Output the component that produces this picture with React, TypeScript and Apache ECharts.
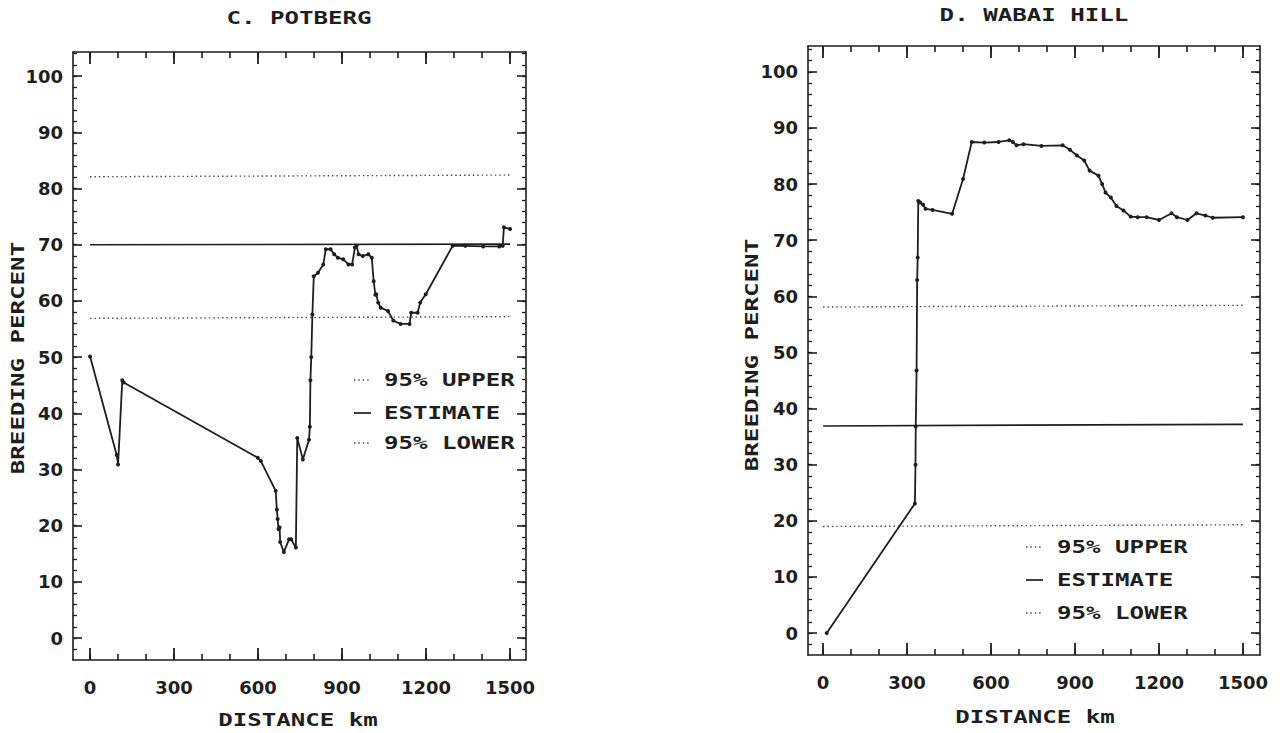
import React, { useEffect, useRef } from "react";
import * as echarts from "echarts";

// ---- data ----
const potbergKm = [0, 95, 100, 115, 120, 599, 610, 663, 667, 670, 673, 677, 679, 692, 711, 718, 735, 740, 760, 782, 785, 787, 790, 794, 799, 814, 833, 842, 859, 872, 885, 904, 923, 936, 946, 952, 959, 974, 994, 1006, 1013, 1019, 1022, 1029, 1038, 1064, 1083, 1109, 1141, 1147, 1170, 1179, 1199, 1295, 1340, 1404, 1462, 1474, 1478, 1500];
const potbergPct = [50.1, 32.6, 30.9, 45.9, 45.5, 32.1, 31.5, 26.2, 22.9, 21.2, 19.4, 19.7, 17.1, 15.3, 17.6, 17.6, 16.1, 35.6, 31.8, 35.3, 37.6, 45.9, 50.0, 57.6, 64.4, 65.0, 66.5, 69.2, 69.2, 68.3, 67.7, 67.4, 66.5, 66.5, 69.5, 69.8, 68.3, 68.0, 68.3, 67.7, 63.5, 61.1, 61.2, 59.7, 58.8, 58.2, 56.5, 55.9, 55.9, 57.9, 57.9, 59.7, 61.2, 69.8, 69.8, 69.7, 69.7, 69.8, 73.1, 72.8];
const potbergUpper = [82.1, 82.4];
const potbergEstimate = [70.0, 70.1];
const potbergLower = [56.9, 57.2];

const wabaiKm = [13, 328, 330, 331, 334, 336, 338, 340, 347, 357, 366, 391, 461, 500, 531, 576, 627, 665, 678, 691, 716, 780, 856, 882, 907, 933, 952, 984, 997, 1009, 1028, 1048, 1073, 1099, 1124, 1156, 1200, 1245, 1264, 1302, 1334, 1366, 1392, 1500];
const wabaiPct = [0, 23.1, 30.0, 36.8, 46.8, 62.9, 66.9, 77.0, 76.7, 76.3, 75.6, 75.4, 74.7, 80.9, 87.5, 87.4, 87.5, 87.8, 87.5, 86.9, 87.1, 86.8, 86.9, 86.1, 85.1, 84.2, 82.4, 81.5, 80.0, 78.5, 77.6, 76.1, 75.3, 74.2, 74.1, 74.1, 73.6, 74.8, 74.1, 73.6, 74.8, 74.4, 74.0, 74.1];
const wabaiUpper = [58.1, 58.4];
const wabaiEstimate = [36.9, 37.2];
const wabaiLower = [19.0, 19.3];

const refKm = [0, 1500];

const xMajorTicks = [0, 300, 600, 900, 1200, 1500];
const xMinorTicks = [0, 100, 200, 300, 400, 500, 600, 700, 800, 900, 1000, 1100, 1200, 1300, 1400, 1500];
const yMajorTicks = [0, 10, 20, 30, 40, 50, 60, 70, 80, 90, 100];
const yMinorTicks = [-2, 0, 2, 4, 6, 8, 10, 12, 14, 16, 18, 20, 22, 24, 26, 28, 30, 32, 34, 36, 38, 40, 42, 44, 46, 48, 50, 52, 54, 56, 58, 60, 62, 64, 66, 68, 70, 72, 74, 76, 78, 80, 82, 84, 86, 88, 90, 92, 94, 96, 98, 100, 102, 104];

const titles = ["C. POTBERG", "D. WABAI HILL"];
const xName = "DISTANCE km";
const yName = "BREEDING PERCENT";
const legendLabels = ["95% UPPER", "ESTIMATE", "95% LOWER"];

const INK = "#1e1e1e";
const MONO = "'DejaVu Sans Mono', monospace";
const SX = 1.42;

function zip(a: number[], b: number[]) {
  return a.map((v, i) => [v, b[i]]);
}

const plainNum = (v: number) => String(v);

function makeXAxes(gridIndex: number, min: number, max: number) {
  const base = { type: "value", gridIndex, min, max, splitLine: { show: false } };
  return [
    {
      ...base,
      position: "bottom",
      axisLine: { show: true, onZero: false, lineStyle: { color: INK, width: 1.6 } },
      axisTick: { show: true, inside: true, length: 12, customValues: xMajorTicks, lineStyle: { color: INK, width: 1.8 } },
      axisLabel: { show: true, customValues: xMajorTicks, formatter: plainNum, margin: 18, color: INK, fontSize: 18, fontWeight: "bold", fontFamily: "'DejaVu Sans', sans-serif" },
    },
    {
      ...base,
      position: "bottom",
      axisLine: { show: false, onZero: false },
      axisTick: { show: true, inside: true, length: 6, customValues: xMinorTicks, lineStyle: { color: INK, width: 1.6 } },
      axisLabel: { show: false },
    },
    {
      ...base,
      position: "top",
      axisLine: { show: true, onZero: false, lineStyle: { color: INK, width: 1.6 } },
      axisTick: { show: true, inside: true, length: 12, customValues: xMajorTicks, lineStyle: { color: INK, width: 1.8 } },
      axisLabel: { show: false },
    },
    {
      ...base,
      position: "top",
      axisLine: { show: false, onZero: false },
      axisTick: { show: true, inside: true, length: 6, customValues: xMinorTicks, lineStyle: { color: INK, width: 1.6 } },
      axisLabel: { show: false },
    },
  ];
}

function makeYAxes(gridIndex: number, min: number, max: number) {
  const base = { type: "value", gridIndex, min, max, splitLine: { show: false } };
  return [
    {
      ...base,
      position: "left",
      axisLine: { show: true, onZero: false, lineStyle: { color: INK, width: 1.6 } },
      axisTick: { show: true, inside: true, length: 9, customValues: yMajorTicks, lineStyle: { color: INK, width: 1.6 } },
      axisLabel: { show: true, customValues: yMajorTicks, formatter: plainNum, margin: 10, color: INK, fontSize: 18, fontWeight: "bold", fontFamily: "'DejaVu Sans', sans-serif" },
    },
    {
      ...base,
      position: "left",
      axisLine: { show: false, onZero: false },
      axisTick: { show: true, inside: true, length: 4, customValues: yMinorTicks, lineStyle: { color: INK, width: 1.3 } },
      axisLabel: { show: false },
    },
    {
      ...base,
      position: "right",
      axisLine: { show: true, onZero: false, lineStyle: { color: INK, width: 1.6 } },
      axisTick: { show: true, inside: true, length: 9, customValues: yMajorTicks, lineStyle: { color: INK, width: 1.6 } },
      axisLabel: { show: false },
    },
    {
      ...base,
      position: "right",
      axisLine: { show: false, onZero: false },
      axisTick: { show: true, inside: true, length: 4, customValues: yMinorTicks, lineStyle: { color: INK, width: 1.3 } },
      axisLabel: { show: false },
    },
  ];
}

function makeSeries(axisIndex: number, km: number[], pct: number[], up: number[], est: number[], lo: number[]) {
  const refBase = {
    type: "line",
    xAxisIndex: axisIndex,
    yAxisIndex: axisIndex,
    symbol: "none",
    showSymbol: false,
    silent: true,
  };
  return [
    { ...refBase, name: legendLabels[0], data: zip(refKm, up), lineStyle: { color: "#444", width: 1.4, type: [1.4, 3] }, z: 2 },
    { ...refBase, name: legendLabels[1], data: zip(refKm, est), lineStyle: { color: INK, width: 1.7, type: "solid" }, z: 2 },
    { ...refBase, name: legendLabels[2], data: zip(refKm, lo), lineStyle: { color: "#444", width: 1.4, type: [1.4, 3] }, z: 2 },
    {
      type: "line",
      xAxisIndex: axisIndex,
      yAxisIndex: axisIndex,
      data: zip(km, pct),
      symbol: "circle",
      symbolSize: 4,
      showSymbol: true,
      itemStyle: { color: INK },
      lineStyle: { color: INK, width: 1.8 },
      z: 3,
    },
  ];
}

function txt(text: string, x: number, y: number, align: string, opts: any = {}) {
  return {
    type: "text",
    x,
    y,
    scaleX: SX,
    rotation: opts.rotation || 0,
    style: {
      text,
      x: 0,
      y: 0,
      align,
      verticalAlign: "middle",
      fill: INK,
      font: `bold ${opts.size || 17}px ${MONO}`,
    },
  };
}

function legend(symX: number, textX: number, ys: number[]) {
  const els: any[] = [];
  ys.forEach((y, i) => {
    const dotted = i !== 1;
    els.push({
      type: "line",
      shape: { x1: symX, y1: y, x2: symX + 17, y2: y },
      style: dotted
        ? { stroke: "#444", lineWidth: 1.4, lineDash: [1.4, 3] }
        : { stroke: INK, lineWidth: 1.7 },
    });
    els.push(txt(legendLabels[i], textX, y, "left"));
  });
  return els;
}

export default function App() {
  const ref = useRef<HTMLDivElement>(null);
  useEffect(() => {
    document.body.style.margin = "0";
    if (!ref.current) return;
    const chart = echarts.init(ref.current, undefined, { renderer: "svg" });
    const option: any = {
      animation: false,
      backgroundColor: "#ffffff",
      grid: [
        { left: 73, top: 52, width: 453, height: 608, outerBoundsMode: "none", containLabel: false },
        { left: 808, top: 46, width: 452, height: 609, outerBoundsMode: "none", containLabel: false },
      ],
      xAxis: [...makeXAxes(0, -61, 1557), ...makeXAxes(1, -54, 1561)],
      yAxis: [...makeYAxes(0, -3.9, 104.3), ...makeYAxes(1, -3.9, 104.6)],
      series: [
        ...makeSeries(0, potbergKm, potbergPct, potbergUpper, potbergEstimate, potbergLower),
        ...makeSeries(4, wabaiKm, wabaiPct, wabaiUpper, wabaiEstimate, wabaiLower),
      ],
      graphic: [
        txt(titles[0], 299, 18, "center"),
        txt(titles[1], 1034, 15, "center"),
        txt(xName, 298, 720, "center"),
        txt(xName, 1035, 717, "center"),
        txt(yName, 18, 358, "center", { rotation: Math.PI / 2 }),
        txt(yName, 752, 355, "center", { rotation: Math.PI / 2 }),
        ...legend(354, 384, [380, 413, 443]),
        ...legend(1026, 1057, [547, 580, 613]),
      ],
    };
    chart.setOption(option);
    return () => chart.dispose();
  }, []);
  return <div ref={ref} style={{ width: 1287, height: 733 }} />;
}
